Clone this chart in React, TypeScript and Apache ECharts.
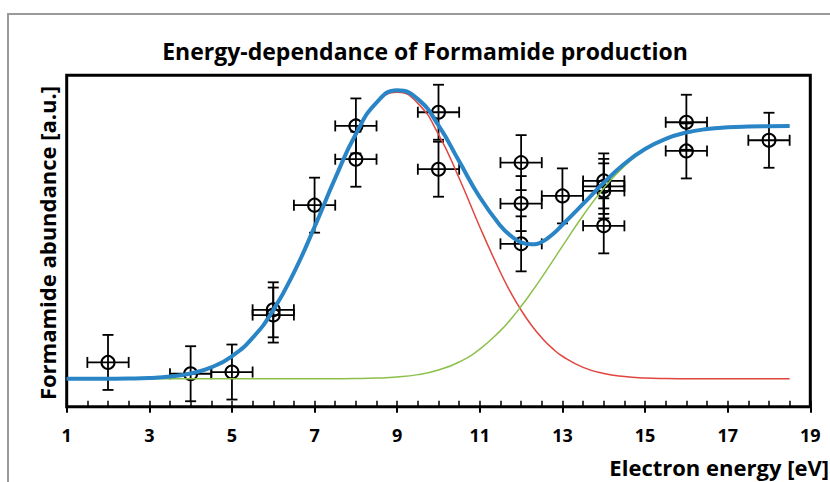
import React, { useEffect, useRef } from "react";
import * as echarts from "echarts";

// Fitted curves (x in eV, y in arbitrary units 0..100)
const curveX = [1, 1.5, 2, 2.5, 3, 3.5, 4, 4.5, 5, 5.5, 6, 6.5, 7, 7.5, 8, 8.5, 9, 9.5, 10, 10.5, 11, 11.5, 11.75, 12, 12.25, 12.5, 12.75, 13, 13.5, 14, 14.5, 15, 15.5, 16, 16.5, 17, 17.5, 18, 18.5];
const totalFit = [8.4, 8.41, 8.44, 8.51, 8.69, 9.11, 10.03, 11.88, 15.22, 20.78, 29.14, 40.48, 54.25, 68.96, 82.27, 91.76, 95.46, 92.81, 84.86, 74.03, 63.21, 54.6, 51.6, 49.6, 49.0, 49.7, 51.9, 54.9, 61.19, 67.57, 73.3, 77.76, 80.83, 82.73, 83.78, 84.3, 84.55, 84.65, 84.68];
const peakFit = [8.4, 8.41, 8.44, 8.51, 8.69, 9.11, 10.03, 11.88, 15.22, 20.78, 29.14, 40.48, 54.24, 68.93, 82.19, 91.53, 94.9, 91.53, 82.19, 68.93, 54.24, 40.48, 34.44, 29.14, 24.58, 20.78, 17.68, 15.22, 11.88, 10.03, 9.11, 8.69, 8.51, 8.44, 8.41, 8.4, 8.4, 8.4, 8.4];
const stepFit = [8.4, 8.4, 8.4, 8.4, 8.4, 8.4, 8.4, 8.4, 8.4, 8.4, 8.4, 8.4, 8.41, 8.43, 8.48, 8.63, 8.96, 9.68, 11.07, 13.5, 17.37, 22.96, 26.41, 30.29, 34.52, 39.02, 43.7, 48.45, 57.71, 65.94, 72.59, 77.47, 80.72, 82.69, 83.77, 84.3, 84.55, 84.65, 84.68];

// Measured points
const pointX = [2, 4, 5, 6, 6, 7, 8, 8, 10, 10, 12, 12, 12, 13, 14, 14, 14, 14, 16, 16, 18];
const pointY = [13.36, 9.95, 10.46, 29.24, 27.65, 60.81, 84.72, 74.68, 88.85, 71.66, 73.65, 61.29, 49.14, 63.61, 68.13, 66.48, 65.12, 54.57, 85.83, 77.18, 80.4];
const xError = 0.5;
const yError = 8.3;

const xTickLabels = [1, 3, 5, 7, 9, 11, 13, 15, 17, 19];

const FONT = "'Open Sans', sans-serif";

export default function App() {
  const ref = useRef<HTMLDivElement>(null);
  useEffect(() => {
    if (!ref.current) return;
    const chart = echarts.init(ref.current, null, { renderer: "svg" });
    const pts = pointX.map((x, i) => [x, pointY[i]]);
    const line = (d: number[]) => curveX.map((x, i) => [x, d[i]]);
    chart.setOption({
      animation: false,
      backgroundColor: "#ffffff",
      grid: {
        left: 66.7,
        top: 75.3,
        width: 743.6,
        height: 331.4,
        show: true,
        borderColor: "#000000",
        borderWidth: 3,
        backgroundColor: "transparent",
      },
      xAxis: [
        {
          type: "value",
          min: 1,
          max: 19,
          position: "bottom",
          axisLine: { show: false },
          splitLine: { show: false },
          axisTick: {
            show: true,
            inside: false,
            length: 6,
            customValues: xTickLabels,
            lineStyle: { color: "#000", width: 2 },
          },
          axisLabel: {
            show: true,
            customValues: xTickLabels,
            margin: 19,
            color: "#000",
            fontFamily: FONT,
            fontWeight: "bold",
            fontSize: 18,
          },
        },
        {
          type: "value",
          min: 1,
          max: 19,
          interval: 0.5,
          position: "bottom",
          axisLine: { show: false },
          splitLine: { show: false },
          axisLabel: { show: false },
          axisTick: {
            show: true,
            inside: true,
            length: 6,
            lineStyle: { color: "#000", width: 1.5 },
          },
        },
      ],
      yAxis: {
        type: "value",
        min: 0,
        max: 100,
        axisLine: { show: false },
        axisTick: { show: false },
        axisLabel: { show: false },
        splitLine: { show: false },
      },
      graphic: [
        {
          type: "rect",
          shape: { x: 8, y: 14, width: 900, height: 600 },
          style: { fill: "none", stroke: "#9a9a9a", lineWidth: 2 },
          silent: true,
          z: -10,
        },
        {
          type: "text",
          x: 425,
          y: 51,
          style: {
            text: "Energy-dependance of Formamide production",
            fill: "#000",
            font: `bold 23px ${FONT}`,
            align: "center",
            verticalAlign: "middle",
          },
        },
        {
          type: "text",
          x: 829,
          y: 467,
          style: {
            text: "Electron energy [eV]",
            fill: "#000",
            font: `bold 22px ${FONT}`,
            align: "right",
            verticalAlign: "middle",
          },
        },
        {
          type: "text",
          x: 47,
          y: 243,
          rotation: Math.PI / 2,
          style: {
            text: "Formamide abundance [a.u.]",
            fill: "#000",
            font: `bold 22px ${FONT}`,
            align: "center",
            verticalAlign: "middle",
          },
        },
      ],
      series: [
        {
          type: "custom",
          z: 2,
          data: pts,
          renderItem: (params: any, api: any) => {
            const x = api.value(0);
            const y = api.value(1);
            const c = api.coord([x, y]);
            const l = api.coord([x - xError, y]);
            const r = api.coord([x + xError, y]);
            const t = api.coord([x, y + yError]);
            const b = api.coord([x, y - yError]);
            const cap = 5.5;
            const st = { stroke: "#000", lineWidth: 1.8, fill: "none" };
            return {
              type: "group",
              children: [
                { type: "line", shape: { x1: l[0], y1: c[1], x2: r[0], y2: c[1] }, style: st },
                { type: "line", shape: { x1: c[0], y1: t[1], x2: c[0], y2: b[1] }, style: st },
                { type: "line", shape: { x1: l[0], y1: c[1] - cap, x2: l[0], y2: c[1] + cap }, style: st },
                { type: "line", shape: { x1: r[0], y1: c[1] - cap, x2: r[0], y2: c[1] + cap }, style: st },
                { type: "line", shape: { x1: c[0] - cap, y1: t[1], x2: c[0] + cap, y2: t[1] }, style: st },
                { type: "line", shape: { x1: c[0] - cap, y1: b[1], x2: c[0] + cap, y2: b[1] }, style: st },
                { type: "circle", shape: { cx: c[0], cy: c[1], r: 6.5 }, style: { stroke: "#000", lineWidth: 2, fill: "none" } },
              ],
            };
          },
        },
        {
          type: "line",
          z: 3,
          data: line(peakFit),
          smooth: true,
          showSymbol: false,
          lineStyle: { color: "#E0463F", width: 1.5 },
        },
        {
          type: "line",
          z: 3,
          data: line(stepFit),
          smooth: true,
          showSymbol: false,
          lineStyle: { color: "#8CC04B", width: 1.5 },
        },
        {
          type: "line",
          z: 4,
          data: line(totalFit),
          smooth: true,
          showSymbol: false,
          lineStyle: { color: "#2A85C6", width: 4 },
        },
      ],
    });
    return () => chart.dispose();
  }, []);
  return (
    <div
      ref={ref}
      style={{ position: "fixed", left: 0, top: 0, width: 830, height: 482 }}
    />
  );
}
